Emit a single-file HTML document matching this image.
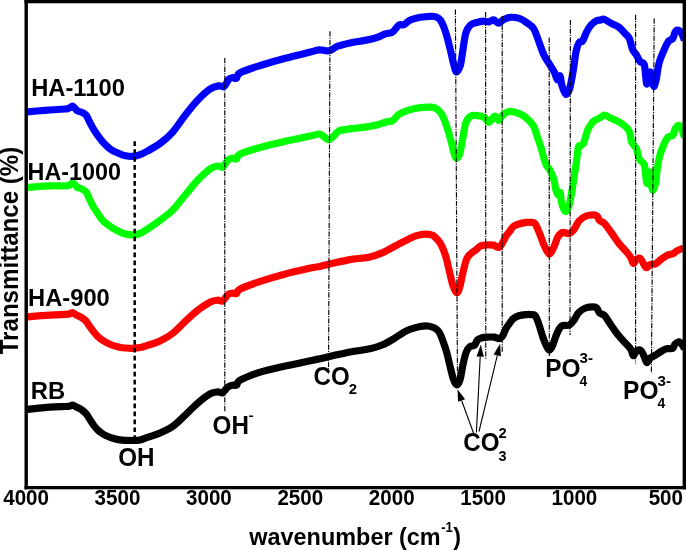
<!DOCTYPE html>
<html><head><meta charset="utf-8"><title>FTIR</title>
<style>html,body{margin:0;padding:0;background:#fff}svg{display:block}</style></head>
<body>
<svg width="686" height="550" viewBox="0 0 686 550">
<rect width="686" height="550" fill="#fff"/>
<g>
<path d="M27.6,409.3C31.3,408.9 43.6,407.7 50.0,407.2C56.4,406.7 62.5,406.7 65.8,406.5C69.0,406.3 68.4,406.4 69.5,406.2C70.6,405.9 71.5,405.0 72.4,405.0C73.3,405.0 74.2,405.8 75.0,406.2C75.8,406.6 76.3,406.9 77.5,407.5C78.7,408.1 80.5,408.9 81.9,410.0C83.4,411.1 85.0,412.4 86.2,413.8C87.4,415.2 88.0,416.5 89.2,418.4C90.4,420.3 92.0,423.1 93.5,425.0C95.0,426.9 96.2,428.5 97.9,430.1C99.6,431.7 101.5,433.2 103.7,434.5C105.9,435.8 108.6,436.8 111.0,437.7C113.4,438.6 115.9,439.2 118.3,439.6C120.7,440.0 123.2,440.2 125.6,440.3C128.0,440.4 130.5,440.6 132.9,440.5C135.3,440.4 137.8,440.4 140.2,439.9C142.6,439.4 144.2,438.5 147.5,437.4C150.8,436.2 155.8,434.8 160.0,433.0C164.2,431.2 168.3,429.4 172.5,426.5C176.7,423.6 180.8,419.2 185.0,415.3C189.2,411.4 193.4,406.8 197.6,403.2C201.8,399.6 206.7,395.8 210.0,393.9C213.3,392.0 215.6,392.1 217.7,391.9C219.8,391.7 221.0,393.5 222.7,392.7C224.4,391.9 226.1,388.4 227.7,387.2C229.3,385.9 230.7,385.5 232.2,385.2C233.7,384.9 235.2,386.0 236.5,385.2C237.8,384.4 236.2,382.4 240.2,380.2C244.2,378.0 252.8,374.5 260.3,372.1C267.8,369.7 277.0,367.9 285.4,366.0C293.8,364.1 304.7,361.9 310.5,360.7C316.3,359.5 316.3,359.5 320.0,358.7C323.7,357.9 327.5,356.9 332.5,355.8C337.5,354.7 343.8,353.2 350.0,352.0C356.2,350.8 364.6,350.0 370.0,348.8C375.4,347.6 378.5,346.6 382.7,344.8C386.9,343.0 391.0,340.2 395.2,337.8C399.4,335.4 403.6,332.2 407.8,330.3C412.0,328.4 417.0,327.3 420.3,326.6C423.6,325.9 425.5,325.8 427.8,326.0C430.1,326.2 432.5,327.1 434.1,327.8C435.7,328.5 436.6,329.2 437.6,330.3C438.7,331.4 439.3,332.1 440.4,334.5C441.5,336.9 443.2,341.7 444.2,344.6C445.2,347.5 445.7,348.8 446.6,352.0C447.5,355.2 448.4,359.5 449.5,364.0C450.6,368.5 452.1,375.3 453.3,378.8C454.5,382.3 455.7,384.7 456.8,384.8C457.9,384.9 459.1,382.9 460.1,379.5C461.1,376.1 462.0,369.1 463.0,364.5C464.0,359.9 465.1,355.0 466.3,352.0C467.5,349.0 468.6,347.6 470.0,346.5C471.4,345.4 473.3,346.4 474.5,345.3C475.7,344.2 476.3,341.2 477.4,340.0C478.5,338.8 479.6,338.5 481.2,338.0C482.8,337.5 484.7,337.2 486.9,337.1C489.1,337.0 492.3,336.9 494.4,337.1C496.4,337.4 497.8,338.9 499.2,338.6C500.6,338.3 501.9,336.9 503.0,335.2C504.1,333.5 504.8,330.6 506.0,328.5C507.2,326.4 509.1,323.9 510.3,322.3C511.5,320.7 511.9,319.7 513.3,318.6C514.7,317.5 516.6,316.5 518.8,315.8C521.0,315.1 524.4,314.8 526.4,314.6C528.4,314.4 529.5,314.4 531.0,314.6C532.5,314.8 533.8,314.0 535.1,315.6C536.4,317.2 537.4,320.2 538.8,324.1C540.2,328.1 542.0,335.1 543.6,339.3C545.2,343.5 547.1,348.3 548.5,349.5C549.9,350.7 550.7,349.1 552.1,346.5C553.5,343.9 555.3,337.0 556.9,333.6C558.5,330.2 559.5,327.4 561.6,326.0C563.7,324.6 567.2,326.1 569.2,325.1C571.2,324.2 572.3,322.4 573.9,320.3C575.5,318.2 576.7,314.8 578.6,312.7C580.5,310.6 583.0,309.0 585.5,308.0C588.0,307.0 591.6,306.8 593.5,306.8C595.4,306.8 595.8,307.0 596.8,308.0C597.8,309.0 598.3,311.7 599.6,313.0C600.9,314.3 602.6,313.6 604.5,315.6C606.4,317.6 608.5,321.5 610.9,324.8C613.2,328.1 616.0,332.4 618.6,335.6C621.2,338.8 624.3,341.8 626.4,344.1C628.5,346.4 629.9,347.6 631.0,349.5C632.1,351.4 632.4,355.4 633.3,355.7C634.2,355.9 635.1,351.9 636.4,351.0C637.7,350.1 639.7,349.7 641.0,350.6C642.3,351.5 643.1,354.4 644.1,356.4C645.1,358.4 645.8,362.3 646.8,362.6C647.8,362.9 648.8,359.3 650.3,358.0C651.8,356.7 653.8,356.1 655.7,354.9C657.6,353.7 660.1,352.0 661.9,351.0C663.7,350.0 664.7,349.1 666.5,348.7C668.3,348.3 671.3,349.2 672.7,348.4C674.1,347.6 674.0,345.2 675.0,344.1C676.0,343.0 677.6,341.6 678.9,341.8C680.2,342.1 681.9,344.4 682.8,345.6C683.7,346.8 684.2,348.4 684.5,349.0" fill="none" stroke="#000" stroke-width="7.2" stroke-linejoin="round" stroke-linecap="butt"/>
<path d="M27.6,316.9C31.3,316.6 43.6,315.6 50.0,315.2C56.4,314.8 62.5,314.5 65.8,314.3C69.0,314.1 68.4,314.3 69.5,314.0C70.6,313.7 71.5,312.6 72.4,312.6C73.3,312.6 74.2,313.5 75.0,314.0C75.8,314.5 76.3,314.9 77.5,315.5C78.7,316.1 80.5,316.7 81.9,317.7C83.4,318.7 85.0,320.0 86.2,321.3C87.4,322.6 88.0,324.0 89.2,325.7C90.4,327.4 92.0,329.7 93.5,331.5C95.0,333.3 96.2,335.0 97.9,336.6C99.6,338.2 101.5,339.6 103.7,341.0C105.9,342.4 108.6,343.7 111.0,344.7C113.4,345.7 115.9,346.3 118.3,346.9C120.7,347.4 123.2,347.8 125.6,348.0C128.0,348.2 130.5,348.4 132.9,348.3C135.3,348.2 137.8,348.1 140.2,347.6C142.6,347.1 144.2,346.5 147.5,345.4C150.8,344.3 155.8,343.0 160.0,341.0C164.2,339.0 168.3,336.7 172.5,333.5C176.7,330.3 180.8,325.5 185.0,321.6C189.2,317.7 193.4,313.5 197.6,310.3C201.8,307.1 206.7,303.9 210.0,302.2C213.3,300.5 215.6,300.4 217.7,300.2C219.8,300.0 221.0,301.9 222.7,301.0C224.4,300.1 226.1,296.0 227.7,294.7C229.3,293.4 230.7,293.4 232.2,293.2C233.7,293.0 235.2,294.2 236.5,293.5C237.8,292.8 236.2,291.0 240.2,289.0C244.2,287.0 252.8,283.9 260.3,281.4C267.8,278.9 277.0,276.1 285.4,273.9C293.8,271.7 304.7,269.4 310.5,268.1C316.3,266.9 316.3,267.2 320.0,266.4C323.7,265.6 327.5,264.4 332.5,263.3C337.5,262.2 343.8,260.7 350.0,259.6C356.2,258.6 364.6,258.2 370.0,257.0C375.4,255.8 378.5,254.4 382.7,252.6C386.9,250.8 391.0,248.2 395.2,246.0C399.4,243.8 404.5,241.0 407.8,239.4C411.1,237.8 412.9,237.0 415.0,236.2C417.1,235.4 418.6,235.0 420.3,234.7C422.0,234.3 423.4,234.1 425.0,234.1C426.6,234.1 428.5,234.2 430.0,234.6C431.5,235.0 432.4,234.8 434.1,236.3C435.8,237.8 438.5,240.2 440.4,243.4C442.3,246.6 443.9,250.7 445.4,255.2C446.8,259.7 447.9,265.2 449.1,270.2C450.4,275.2 451.6,281.5 452.9,285.3C454.2,289.1 455.5,292.6 456.7,292.8C457.9,293.0 458.9,289.9 459.9,286.5C460.9,283.1 461.8,277.3 462.9,272.7C464.0,268.1 465.4,262.0 466.7,258.9C468.0,255.8 469.0,255.3 470.5,253.9C472.0,252.5 473.8,251.5 475.5,250.2C477.2,248.9 478.8,246.9 480.5,246.0C482.2,245.1 483.6,245.2 485.7,245.0C487.8,244.8 491.1,244.7 493.3,245.1C495.5,245.5 497.3,248.1 499.0,247.4C500.7,246.7 502.5,242.6 503.7,240.7C504.9,238.8 504.9,237.7 506.0,236.0C507.1,234.3 509.1,232.1 510.3,230.5C511.5,228.9 511.9,227.6 513.3,226.5C514.7,225.4 516.6,224.7 518.8,224.0C521.0,223.3 524.4,222.7 526.4,222.4C528.4,222.1 529.6,222.2 531.0,222.4C532.4,222.6 533.5,221.7 535.0,223.6C536.5,225.5 538.1,230.1 539.7,233.8C541.3,237.5 542.8,242.6 544.4,246.0C546.0,249.4 547.6,253.8 549.2,254.0C550.8,254.2 552.5,249.8 553.9,247.0C555.3,244.2 556.3,239.6 557.7,237.2C559.1,234.8 560.5,233.1 562.4,232.5C564.3,231.9 567.3,234.0 569.2,233.5C571.1,233.0 572.4,231.6 574.0,229.5C575.6,227.4 577.1,223.2 579.0,221.0C580.9,218.8 583.1,217.2 585.5,216.2C587.9,215.2 591.6,214.9 593.5,214.9C595.4,214.9 596.0,215.1 597.0,216.0C598.0,216.9 598.4,219.2 599.6,220.5C600.9,221.8 602.6,221.6 604.5,223.5C606.4,225.4 608.5,228.8 610.9,232.0C613.2,235.2 616.0,239.7 618.6,243.0C621.2,246.3 624.3,249.3 626.4,251.8C628.5,254.3 629.9,256.0 631.0,257.9C632.1,259.8 632.4,263.1 633.3,263.4C634.2,263.7 635.2,260.3 636.4,259.5C637.6,258.7 639.1,257.8 640.3,258.4C641.5,259.0 642.4,261.8 643.4,263.4C644.4,264.9 645.2,267.5 646.4,267.7C647.5,267.9 648.8,265.3 650.3,264.6C651.8,263.9 653.8,264.7 655.7,263.7C657.6,262.7 659.8,260.2 661.9,258.7C664.0,257.2 666.3,255.7 668.1,254.9C669.9,254.1 671.2,254.5 672.7,253.8C674.2,253.1 675.5,251.7 677.3,250.7C679.1,249.7 682.5,248.4 683.5,247.9" fill="none" stroke="#f00" stroke-width="7.2" stroke-linejoin="round" stroke-linecap="butt"/>
<path d="M27.6,187.3C31.3,187.1 44.1,186.0 50.0,185.8C55.9,185.6 59.8,186.0 62.9,186.0C66.0,186.0 67.4,185.9 68.7,185.6C70.0,185.3 69.8,184.8 70.5,184.3C71.2,183.9 72.3,182.7 73.1,182.9C73.9,183.1 74.8,184.5 75.5,185.3C76.2,186.1 76.4,186.9 77.5,187.5C78.6,188.1 80.5,188.2 81.9,189.0C83.4,189.8 85.0,190.6 86.2,192.2C87.4,193.8 88.0,196.0 89.2,198.5C90.4,201.0 92.0,204.5 93.5,207.0C95.0,209.5 96.2,211.3 97.9,213.7C99.6,216.1 101.5,219.3 103.7,221.5C105.9,223.7 108.6,225.3 111.0,226.9C113.4,228.5 115.9,230.0 118.3,231.2C120.7,232.4 123.2,233.5 125.6,234.1C128.0,234.7 130.5,235.0 132.9,234.9C135.3,234.8 137.8,234.4 140.2,233.4C142.6,232.4 144.2,231.2 147.5,229.0C150.8,226.8 155.8,223.4 160.0,220.3C164.2,217.2 168.3,214.5 172.5,210.3C176.7,206.1 180.8,200.3 185.0,195.3C189.2,190.3 193.4,184.6 197.6,180.2C201.8,175.8 206.7,171.4 210.0,169.0C213.3,166.6 215.6,166.3 217.7,166.0C219.8,165.7 221.0,168.2 222.7,167.2C224.4,166.2 226.1,161.7 227.7,160.2C229.3,158.7 230.7,158.4 232.2,158.2C233.7,158.0 235.2,159.6 236.5,158.9C237.8,158.2 236.2,155.8 240.2,153.9C244.2,152.0 252.8,149.6 260.3,147.5C267.8,145.4 277.0,143.2 285.4,141.3C293.8,139.4 304.9,137.2 310.5,136.0C316.1,134.8 317.1,134.0 319.2,134.0C321.3,134.0 321.4,135.1 323.0,136.0C324.6,136.9 326.7,139.6 328.5,139.6C330.3,139.6 332.1,137.4 333.8,136.0C335.5,134.6 336.1,132.2 338.8,131.0C341.5,129.8 345.6,129.6 350.0,128.9C354.4,128.2 360.4,127.8 365.0,127.1C369.6,126.4 374.3,125.6 377.7,124.8C381.1,124.0 382.7,122.9 385.2,122.2C387.7,121.5 390.4,121.8 392.7,120.5C395.0,119.2 396.1,116.1 399.0,114.3C401.9,112.5 406.8,110.7 410.3,109.6C413.9,108.5 417.0,108.0 420.3,107.6C423.6,107.2 427.8,107.0 430.3,107.1C432.8,107.2 433.6,106.9 435.5,108.1C437.4,109.2 439.8,111.0 441.6,114.0C443.5,117.0 445.1,121.8 446.6,126.0C448.1,130.2 449.1,134.3 450.4,139.0C451.7,143.7 453.3,151.2 454.4,154.4C455.5,157.6 455.9,158.4 456.8,158.2C457.7,158.0 458.9,156.6 459.9,153.2C460.9,149.8 461.9,142.7 462.9,137.6C463.9,132.5 464.6,126.1 465.9,122.6C467.2,119.0 468.6,117.5 470.5,116.3C472.4,115.1 475.3,115.4 477.6,115.6C479.9,115.8 482.3,116.2 484.2,117.3C486.1,118.4 487.3,122.4 489.0,122.2C490.7,122.0 493.0,116.5 494.6,116.2C496.2,115.9 497.4,120.6 498.8,120.3C500.2,120.0 501.4,116.1 503.2,114.6C505.0,113.1 507.1,111.6 509.8,111.4C512.5,111.2 516.4,112.5 519.3,113.7C522.1,114.9 524.5,116.4 526.9,118.4C529.3,120.5 531.6,122.5 533.5,126.0C535.4,129.5 536.8,135.3 538.2,139.3C539.6,143.3 540.8,146.8 541.7,150.0C542.7,153.2 543.1,155.7 543.9,158.2C544.7,160.7 545.4,163.3 546.4,165.2C547.4,167.1 548.6,168.0 549.6,169.6C550.6,171.2 551.3,172.7 552.1,174.6C552.9,176.5 553.7,178.5 554.3,181.0C554.9,183.5 555.3,187.6 555.9,189.8C556.5,192.1 557.1,194.0 557.8,194.5C558.5,195.0 559.7,191.2 560.3,192.6C560.9,194.0 560.8,199.8 561.6,203.0C562.5,206.2 564.1,211.3 565.4,211.6C566.7,211.9 567.9,209.6 569.2,205.0C570.5,200.4 571.8,191.7 573.0,184.1C574.2,176.5 575.8,165.7 576.7,159.5C577.6,153.3 577.9,149.2 578.4,147.0C578.9,144.8 579.3,146.5 580.0,146.0C580.7,145.5 582.1,144.6 582.8,144.0C583.4,143.4 583.1,144.7 583.9,142.4C584.7,140.1 586.5,133.2 587.7,130.1C588.9,127.0 590.3,125.6 591.3,124.1C592.3,122.5 592.4,121.9 593.9,120.8C595.4,119.7 598.3,118.7 600.1,117.7C601.9,116.7 602.9,114.9 604.7,115.0C606.5,115.1 608.6,117.2 610.9,118.3C613.2,119.4 616.3,120.3 618.6,121.6C620.9,122.9 623.0,124.3 624.8,126.0C626.6,127.7 628.2,128.9 629.4,131.6C630.6,134.3 630.6,139.6 631.8,142.4C633.0,145.2 635.1,145.8 636.4,148.6C637.7,151.4 638.2,156.8 639.5,159.4C640.8,162.0 643.1,161.5 644.1,164.1C645.1,166.7 645.2,171.7 645.7,174.9C646.2,178.1 646.6,183.9 647.2,183.4C647.8,182.9 648.9,171.9 649.5,171.8C650.1,171.7 650.5,179.5 651.1,182.6C651.7,185.7 652.1,190.3 652.9,190.3C653.7,190.3 655.0,186.2 655.7,182.6C656.4,179.0 656.6,173.1 657.3,168.7C657.9,164.3 658.6,160.3 659.6,156.4C660.6,152.5 662.0,148.7 663.4,145.5C664.8,142.3 666.5,138.7 668.1,137.0C669.7,135.3 671.6,136.8 672.7,135.5C673.9,134.2 674.1,131.0 675.0,129.3C675.9,127.6 677.1,125.8 678.1,125.5C679.1,125.2 680.2,125.9 681.2,127.8C682.2,129.7 683.8,135.5 684.3,137.0" fill="none" stroke="#0f0" stroke-width="7.2" stroke-linejoin="round" stroke-linecap="butt"/>
<path d="M27.6,111.8C30.5,111.5 41.3,110.6 45.0,110.3C48.7,110.0 46.7,110.2 50.0,110.0C53.3,109.8 62.0,109.2 65.0,109.0C68.0,108.8 66.9,108.9 67.7,108.7C68.5,108.5 69.2,108.0 70.0,107.6C70.8,107.2 71.6,106.0 72.4,106.1C73.2,106.2 74.2,107.5 75.0,108.3C75.8,109.1 76.3,110.1 77.5,110.8C78.7,111.5 80.5,111.7 81.9,112.4C83.4,113.2 85.0,113.8 86.2,115.3C87.4,116.8 88.0,118.9 89.2,121.2C90.4,123.5 92.0,126.8 93.5,129.2C95.0,131.6 96.2,133.4 97.9,135.7C99.6,138.0 101.5,140.7 103.7,143.0C105.9,145.3 108.6,147.9 111.0,149.6C113.4,151.3 115.9,152.2 118.3,153.2C120.7,154.2 123.2,155.3 125.6,155.8C128.0,156.3 130.5,156.6 132.9,156.4C135.3,156.2 137.8,155.6 140.2,154.7C142.6,153.8 144.2,152.9 147.5,151.0C150.8,149.1 155.8,146.6 160.0,143.5C164.2,140.4 168.3,137.0 172.5,132.3C176.7,127.6 180.8,120.8 185.0,115.5C189.2,110.2 193.4,104.7 197.6,100.3C201.8,95.9 206.4,91.4 210.0,89.0C213.6,86.6 216.7,86.2 219.0,85.8C221.3,85.4 222.3,87.6 224.0,86.5C225.7,85.4 227.6,80.5 229.0,79.0C230.4,77.5 231.4,77.8 232.7,77.7C233.9,77.6 235.2,79.0 236.5,78.2C237.8,77.4 236.2,74.8 240.2,72.7C244.2,70.6 252.8,67.9 260.3,65.5C267.8,63.1 277.0,60.5 285.4,58.3C293.8,56.0 304.9,53.4 310.5,52.0C316.1,50.6 316.7,50.0 319.2,49.8C321.7,49.6 323.9,50.6 325.5,50.7C327.1,50.9 327.7,50.9 328.8,50.7C329.9,50.5 330.5,50.4 332.0,49.6C333.5,48.9 334.6,47.3 337.6,46.2C340.6,45.1 345.4,43.9 350.0,42.9C354.6,41.9 360.4,41.3 365.0,40.4C369.6,39.5 374.3,38.3 377.7,37.2C381.1,36.1 382.7,34.8 385.2,33.9C387.7,33.0 390.4,33.4 392.7,31.9C395.0,30.4 397.1,26.2 399.0,25.0C400.9,23.8 402.1,25.4 404.0,24.6C405.9,23.8 407.6,21.2 410.3,20.0C413.0,18.8 417.0,17.9 420.3,17.3C423.6,16.7 427.7,16.4 430.3,16.3C432.9,16.2 434.3,16.2 436.0,16.8C437.7,17.4 439.0,18.3 440.3,20.0C441.6,21.7 442.7,24.3 443.8,27.0C444.9,29.7 445.7,32.1 446.8,36.0C447.9,39.9 449.2,45.3 450.4,50.2C451.6,55.1 453.0,61.6 454.0,65.2C455.0,68.8 455.5,72.0 456.6,72.0C457.7,72.0 459.3,68.8 460.4,65.2C461.4,61.6 462.0,55.6 462.9,50.2C463.8,44.8 464.6,36.8 465.9,32.6C467.2,28.4 468.9,26.6 470.5,25.0C472.1,23.4 473.6,23.3 475.7,22.7C477.8,22.1 481.1,21.3 483.3,21.2C485.5,21.1 487.3,22.0 489.0,21.8C490.7,21.6 492.1,19.7 493.7,19.9C495.3,20.1 496.8,23.1 498.4,23.1C500.0,23.1 501.3,20.8 503.2,19.9C505.1,18.9 507.1,17.6 509.8,17.4C512.5,17.1 516.4,17.5 519.3,18.4C522.1,19.3 524.5,21.0 526.9,22.7C529.3,24.4 531.6,25.5 533.5,28.4C535.4,31.2 536.5,35.4 538.2,39.8C539.9,44.2 542.0,50.9 543.9,55.0C545.8,59.1 547.9,61.6 549.6,64.4C551.3,67.2 553.0,69.5 554.3,72.0C555.6,74.5 556.2,79.0 557.2,79.6C558.2,80.2 559.2,74.8 560.0,75.8C560.8,76.8 560.9,82.2 561.9,85.3C562.9,88.4 564.4,93.6 565.7,94.2C567.0,94.8 568.2,93.1 569.5,89.1C570.8,85.1 572.2,76.4 573.3,70.1C574.4,63.8 575.1,55.8 576.1,51.2C577.1,46.6 577.9,44.4 579.0,42.6C580.1,40.9 581.5,42.4 582.8,40.7C584.0,39.0 585.1,34.9 586.5,32.2C587.9,29.5 589.5,26.6 591.3,24.6C593.0,22.7 595.5,21.2 597.0,20.5C598.5,19.8 598.9,20.3 600.1,20.1C601.3,19.9 602.2,18.8 604.0,19.3C605.8,19.8 608.5,21.9 610.9,23.2C613.3,24.5 616.3,25.3 618.6,27.0C620.9,28.7 623.0,31.3 624.8,33.2C626.6,35.1 628.1,35.9 629.4,38.6C630.7,41.3 631.3,46.7 632.5,49.4C633.7,52.1 635.1,52.8 636.4,54.9C637.7,57.0 639.0,60.3 640.3,61.8C641.6,63.3 643.2,61.9 644.1,64.1C645.0,66.3 645.2,71.7 645.6,75.0C646.0,78.3 646.2,83.8 646.8,84.0C647.4,84.2 648.4,78.0 649.0,76.0C649.6,74.0 649.9,71.3 650.5,72.0C651.1,72.7 651.9,77.6 652.5,80.0C653.1,82.4 653.5,86.8 654.2,86.5C654.9,86.2 655.9,81.1 656.5,78.0C657.1,74.9 657.4,71.2 658.0,68.0C658.6,64.8 659.2,62.1 660.4,58.7C661.6,55.4 663.6,50.9 665.0,47.9C666.4,44.9 667.5,42.4 668.8,40.9C670.1,39.4 671.7,40.0 672.7,38.6C673.7,37.2 674.2,33.8 675.0,32.4C675.8,31.0 676.3,30.1 677.3,30.1C678.3,30.1 680.0,30.7 681.2,32.4C682.4,34.1 683.8,38.9 684.3,40.2" fill="none" stroke="#00f" stroke-width="7.2" stroke-linejoin="round" stroke-linecap="butt"/>
</g>
<line x1="134.7" y1="141.2" x2="134.7" y2="438" stroke="#000" stroke-width="2.5" stroke-dasharray="4.7 3.25" stroke-linecap="butt"/>
<line x1="224.8" y1="58" x2="224.8" y2="412.2" stroke="#000" stroke-width="1.15" stroke-dasharray="5.2 1.2 1.1 1.2"/>
<line x1="330" y1="31.3" x2="328.5" y2="373.5" stroke="#000" stroke-width="1.15" stroke-dasharray="5.2 1.2 1.1 1.2"/>
<line x1="455.4" y1="9.5" x2="457.5" y2="385" stroke="#000" stroke-width="1.15" stroke-dasharray="5.2 1.2 1.1 1.2"/>
<line x1="485.6" y1="12" x2="485.8" y2="360" stroke="#000" stroke-width="1.15" stroke-dasharray="5.2 1.2 1.1 1.2"/>
<line x1="502.2" y1="16" x2="502.2" y2="353" stroke="#000" stroke-width="1.15" stroke-dasharray="5.2 1.2 1.1 1.2"/>
<line x1="549.2" y1="37.5" x2="549.3" y2="355.9" stroke="#000" stroke-width="1.15" stroke-dasharray="5.2 1.2 1.1 1.2"/>
<line x1="570.4" y1="19.9" x2="570" y2="335" stroke="#000" stroke-width="1.15" stroke-dasharray="5.2 1.2 1.1 1.2"/>
<line x1="635.6" y1="14.7" x2="635.6" y2="363.6" stroke="#000" stroke-width="1.15" stroke-dasharray="5.2 1.2 1.1 1.2"/>
<line x1="654.2" y1="18.5" x2="651.4" y2="373.2" stroke="#000" stroke-width="1.15" stroke-dasharray="5.2 1.2 1.1 1.2"/>
<line x1="473.5" y1="433" x2="461.6" y2="400.5" stroke="#000" stroke-width="1.1"/><polygon points="457.5,389.2 465.1,399.2 458.1,401.8" fill="#000"/><line x1="476.4" y1="432.5" x2="480.2" y2="356.6" stroke="#000" stroke-width="1.1"/><polygon points="480.8,344.6 483.9,356.8 476.5,356.4" fill="#000"/><line x1="479" y1="431.5" x2="497.3" y2="355.4" stroke="#000" stroke-width="1.1"/><polygon points="500.1,343.7 500.9,356.2 493.6,354.5" fill="#000"/>
<rect x="24.5" y="0" width="3.4" height="489.3" fill="#000"/>
<rect x="24.5" y="486" width="661.5" height="3.3" fill="#000"/>
<rect x="24.5" y="0" width="661.5" height="3.3" fill="#000"/>
<rect x="682.6" y="0" width="3.4" height="489.3" fill="#000"/>
<text transform="translate(31.2,95.8) scale(0.985,1)" font-size="24.1" font-family="Liberation Sans, Arial, sans-serif" font-weight="bold" >HA-1100</text><text transform="translate(27.6,180.2) scale(0.958,1)" font-size="24.4" font-family="Liberation Sans, Arial, sans-serif" font-weight="bold" >HA-1000</text><text transform="translate(28.1,305.8) scale(0.984,1)" font-size="24.1" font-family="Liberation Sans, Arial, sans-serif" font-weight="bold" >HA-900</text><text transform="translate(30.7,398.7) scale(0.985,1)" font-size="24.2" font-family="Liberation Sans, Arial, sans-serif" font-weight="bold" >RB</text><text transform="translate(118.2,466.2) scale(0.915,1)" font-size="26.5" font-family="Liberation Sans, Arial, sans-serif" font-weight="bold" >OH</text><text transform="translate(212.6,433.6) scale(0.915,1)" font-size="26.5" font-family="Liberation Sans, Arial, sans-serif" font-weight="bold" >OH</text><text transform="translate(248.4,420.2) scale(1.25,1)" font-size="12.5" font-family="Liberation Sans, Arial, sans-serif" font-weight="bold" >-</text><text transform="translate(313.5,384.6) scale(0.91,1)" font-size="26.5" font-family="Liberation Sans, Arial, sans-serif" font-weight="bold" >CO</text><text transform="translate(348.75,394.0) scale(0.98,1)" font-size="15.2" font-family="Liberation Sans, Arial, sans-serif" font-weight="bold" >2</text><text transform="translate(463.2,451.2) scale(0.92,1)" font-size="26.3" font-family="Liberation Sans, Arial, sans-serif" font-weight="bold" >CO</text><text transform="translate(498.5,437.9) scale(0.95,1)" font-size="15.5" font-family="Liberation Sans, Arial, sans-serif" font-weight="bold" >2</text><text transform="translate(498.6,460.6) scale(0.96,1)" font-size="15.1" font-family="Liberation Sans, Arial, sans-serif" font-weight="bold" >3</text><text transform="translate(545.3,376.6) scale(0.94,1)" font-size="26.0" font-family="Liberation Sans, Arial, sans-serif" font-weight="bold" >PO</text><text transform="translate(579.5,363.05) scale(1.04,1)" font-size="14.5" font-family="Liberation Sans, Arial, sans-serif" font-weight="bold" >3-</text><text transform="translate(579.5,385.9) scale(0.94,1)" font-size="14.8" font-family="Liberation Sans, Arial, sans-serif" font-weight="bold" >4</text><text transform="translate(623.1,399.4) scale(0.935,1)" font-size="26.2" font-family="Liberation Sans, Arial, sans-serif" font-weight="bold" >PO</text><text transform="translate(657.5,385.75) scale(1.04,1)" font-size="14.5" font-family="Liberation Sans, Arial, sans-serif" font-weight="bold" >3-</text><text transform="translate(657.5,408.4) scale(0.94,1)" font-size="14.8" font-family="Liberation Sans, Arial, sans-serif" font-weight="bold" >4</text><text transform="translate(26.1,504.7) scale(0.907,1)" font-size="22.7" font-family="Liberation Sans, Arial, sans-serif" font-weight="bold" text-anchor="middle">4000</text><text transform="translate(117.5,504.7) scale(0.907,1)" font-size="22.7" font-family="Liberation Sans, Arial, sans-serif" font-weight="bold" text-anchor="middle">3500</text><text transform="translate(208.9,504.7) scale(0.907,1)" font-size="22.7" font-family="Liberation Sans, Arial, sans-serif" font-weight="bold" text-anchor="middle">3000</text><text transform="translate(300.3,504.7) scale(0.907,1)" font-size="22.7" font-family="Liberation Sans, Arial, sans-serif" font-weight="bold" text-anchor="middle">2500</text><text transform="translate(391.7,504.7) scale(0.907,1)" font-size="22.7" font-family="Liberation Sans, Arial, sans-serif" font-weight="bold" text-anchor="middle">2000</text><text transform="translate(483.1,504.7) scale(0.907,1)" font-size="22.7" font-family="Liberation Sans, Arial, sans-serif" font-weight="bold" text-anchor="middle">1500</text><text transform="translate(574.4,504.7) scale(0.907,1)" font-size="22.7" font-family="Liberation Sans, Arial, sans-serif" font-weight="bold" text-anchor="middle">1000</text><text transform="translate(665.8,504.7) scale(0.907,1)" font-size="22.7" font-family="Liberation Sans, Arial, sans-serif" font-weight="bold" text-anchor="middle">500</text><text transform="translate(249.3,544.5) scale(1,1)" font-size="24.7" font-family="Liberation Sans, Arial, sans-serif" font-weight="bold" textLength="191.4" lengthAdjust="spacingAndGlyphs">wavenumber (cm</text><text transform="translate(441.2,531.5) scale(0.9,1)" font-size="14.5" font-family="Liberation Sans, Arial, sans-serif" font-weight="bold" >-1</text><text transform="translate(453.3,544.5) scale(0.95,1)" font-size="24.7" font-family="Liberation Sans, Arial, sans-serif" font-weight="bold" >)</text><text transform="translate(18.4,354.3) rotate(-90)" font-size="25.8" font-family="Liberation Sans, Arial, sans-serif" font-weight="bold" textLength="207.6" lengthAdjust="spacingAndGlyphs">Transmittance (%)</text>
</svg>
</body></html>
